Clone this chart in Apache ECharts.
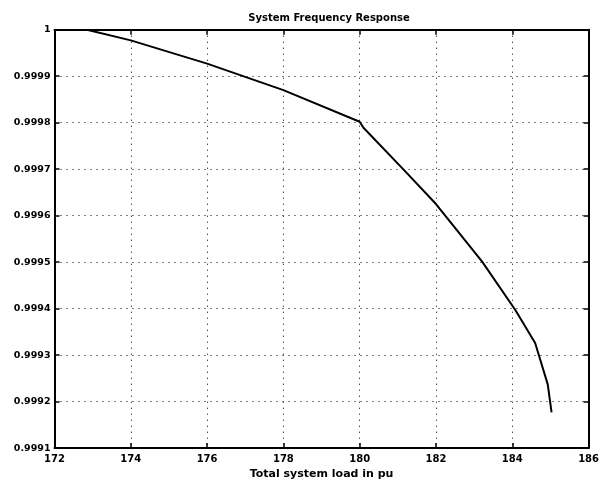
<!DOCTYPE html>
<html>
<head>
    <meta http-equiv="Content-Type" content="text/html; charset=utf-8" />
    <title>System Frequency Response</title>
    <script src="https://cdn.jsdelivr.net/npm/echarts@6/dist/echarts.min.js"></script>
    <style>
        body { margin: 0; background: #fff; }
    </style>
</head>
<body>
    <div id="main" style="width: 602px;height:485px;"></div>
    <script type="text/javascript">

    // load in pu (x) and frequency in pu (y)
    var load = [172.85, 174, 176, 178, 180, 180.1, 181.22, 182, 183.21, 184.08, 184.6, 184.93, 185.03];
    var freq = [1.0, 0.999977, 0.999927, 0.99987, 0.999802, 0.999789, 0.999693, 0.999625, 0.999501, 0.999397, 0.999326, 0.999237, 0.999177];

    var xMin = 172, xMax = 186, xStep = 2;
    var yMin = 0.9991, yMax = 1, yStep = 0.0001;

    var points = [];
    for (var i = 0; i < load.length; i++) {
        points.push([load[i], freq[i]]);
    }

    var font = 'DejaVu Sans';
    var gridLine = { show: true, lineStyle: { color: '#000', type: [1, 5], width: 1 } };
    var frame = { show: true, onZero: false, lineStyle: { color: '#000', width: 2 } };
    var ticks = { show: true, inside: true, length: 5, lineStyle: { color: '#000', width: 1.5 } };

    var myChart = echarts.init(document.getElementById('main'));
    var option = {
        animation: false,
        backgroundColor: '#fff',
        title: {
            text: 'System Frequency Response',
            left: 324,
            textAlign: 'center',
            top: 8,
            textStyle: { fontFamily: font, fontSize: 10, fontWeight: 'bold', color: '#000' }
        },
        grid: { left: 54.5, right: 8, top: 29.7, bottom: 33.5 },
        xAxis: [{
            type: 'value',
            min: xMin, max: xMax, interval: xStep,
            name: 'Total system load in pu',
            nameLocation: 'middle',
            nameGap: 17,
            nameTextStyle: { fontFamily: font, fontSize: 11, fontWeight: 'bold', color: '#000' },
            axisLine: frame,
            axisTick: ticks,
            axisLabel: { fontFamily: font, fontSize: 10, fontWeight: 'bold', color: '#000', margin: 6 },
            splitLine: gridLine
        }, {
            type: 'value', position: 'top',
            min: xMin, max: xMax, interval: xStep,
            axisLine: frame, axisTick: ticks,
            axisLabel: { show: false }, splitLine: { show: false }
        }],
        yAxis: [{
            type: 'value',
            min: yMin, max: yMax, interval: yStep,
            axisLine: frame,
            axisTick: ticks,
            axisLabel: {
                fontFamily: font, fontSize: 9.5, fontWeight: 'bold', color: '#000', margin: 4,
                formatter: function (v) {
                    return v >= 1 ? '1' : v.toFixed(4);
                }
            },
            splitLine: gridLine
        }, {
            type: 'value', position: 'right',
            min: yMin, max: yMax, interval: yStep,
            axisLine: frame, axisTick: ticks,
            axisLabel: { show: false }, splitLine: { show: false }
        }],
        series: [{
            type: 'line',
            data: points,
            showSymbol: false,
            symbol: 'none',
            lineStyle: { color: '#000', width: 2 }
        }]
    };
    myChart.setOption(option);
    </script>
</body>
</html>
